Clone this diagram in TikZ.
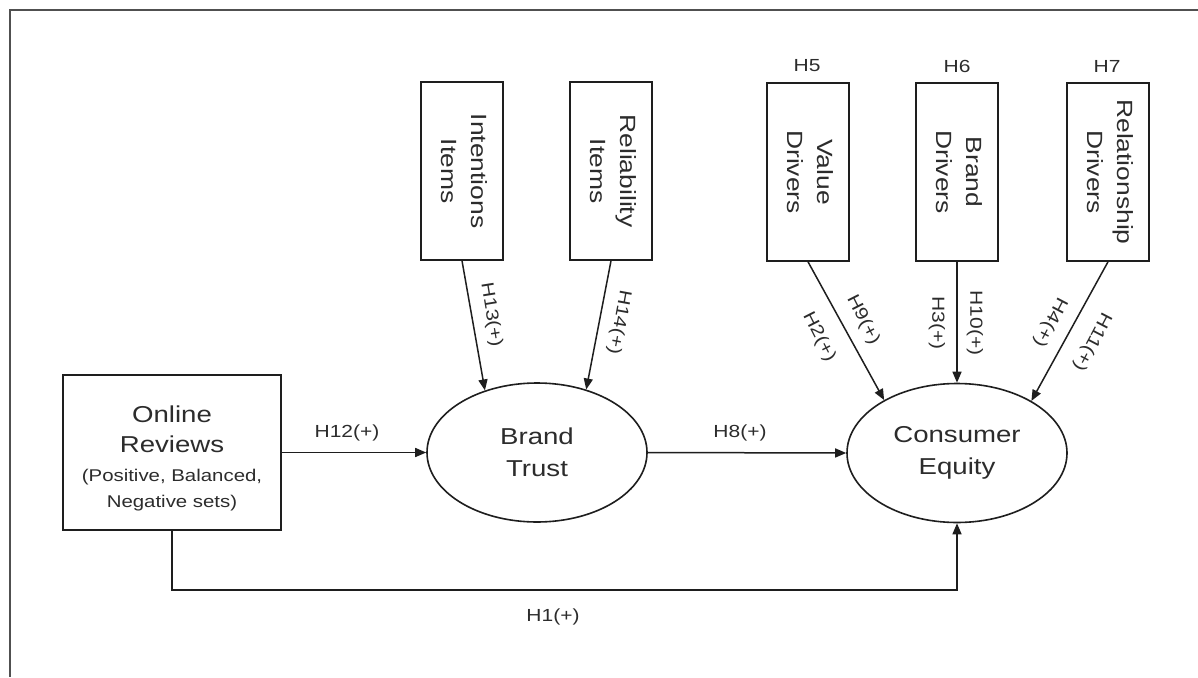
\documentclass[tikz,border=0pt]{standalone}
\usepackage{fontspec}
\setmainfont[FakeStretch=1.2]{Liberation Sans}
\usepackage{graphicx}
\usetikzlibrary{shapes.geometric,arrows.meta}
\definecolor{ink}{HTML}{1e1e1e}
\definecolor{txt}{HTML}{2c2c2c}
\definecolor{framec}{HTML}{505050}
\newcommand{\smalltxt}{\fontsize{17}{25}\selectfont}
\begin{document}
\begin{tikzpicture}[x=1pt,y=-1pt,
  box/.style={draw=ink, line width=1.6pt, fill=white, inner sep=0pt, text=txt},
  hbox/.style={box, minimum width=218pt, minimum height=155pt, align=center, font=\fontsize{23}{32}\selectfont},
  vbox/.style={box, minimum width=82pt, minimum height=178pt, font=\fontsize{22}{30}\selectfont},
  ell/.style={ellipse, draw=ink, line width=1.6pt, fill=white, inner sep=0pt, minimum width=220pt, minimum height=139pt, align=center, text=txt, font=\fontsize{23}{32}\selectfont},
  conn/.style={draw=ink, line width=1.5pt, -{Triangle[length=11pt,width=9pt]}},
  lab/.style={text=txt, inner sep=0pt, font=\fontsize{17.5}{20}\selectfont}]
\useasboundingbox (0,0) rectangle (1198,677);
\fill[white] (0,0) rectangle (1198,677);
\draw[framec, line width=1.6pt] (1198,10) -- (10,10) -- (10,677);

% main nodes
\node[hbox] (rev) at (172,452.5) {\rule{0pt}{28pt}Online\\[-2pt]Reviews\\[-3pt]\smalltxt (Positive, Balanced,\\[-6pt]\smalltxt Negative sets)};
\node[ell] (bt) at (537,452.5) {Brand\\Trust};
\node[ell] (ce) at (957,453) {Consumer\\Equity};

% vertical boxes
\node[vbox] (int) at (462,171) {\rotatebox{-90}{\begin{tabular}{@{}c@{}}Intentions\\Items\end{tabular}}};
\node[vbox] (rel) at (611,171) {\rotatebox{-90}{\begin{tabular}{@{}c@{}}Reliability\\Items\end{tabular}}};
\node[vbox] (val) at (808,172) {\rotatebox{-90}{\begin{tabular}{@{}c@{}}Value\\Drivers\end{tabular}}};
\node[vbox] (brd) at (957,172) {\rotatebox{-90}{\begin{tabular}{@{}c@{}}Brand\\Drivers\end{tabular}}};
\node[vbox] (rsh) at (1108,172) {\rotatebox{-90}{\begin{tabular}{@{}c@{}}Relationship\\Drivers\end{tabular}}};

% top labels
\node[lab] (h5) at (807,66) {H5};
\node[lab] (h6) at (957,66) {H6};
\node[lab] (h7) at (1107,66) {H7};

% connectors
\draw[conn] (rev.east) -- (bt.west);
\draw[conn] (bt.east) -- (ce.west);
\coordinate (h1c) at (957,590);
\draw[conn] (rev.south) |- (h1c) -- (ce.south);
\draw[conn] (int.south) -- (bt.130);
\draw[conn] (rel.south) -- (bt.52);
\draw[conn] (val.south) -- (ce.144);
\draw[conn] (brd.south) -- (ce.north);
\draw[conn] (rsh.south) -- (ce.35.5);

% connector labels
\node[lab] (l12) at (347,433) {H12(+)};
\node[lab] (l8) at (740,433) {H8(+)};
\node[lab] (l1) at (553,617) {H1(+)};
\node[lab, rotate=-80.8] (l13) at (491,315) {H13(+)};
\node[lab, rotate=-100.5] (l14) at (619,322) {H14(+)};
\node[lab, rotate=-63.1] (l9) at (863,320) {H9(+)};
\node[lab, rotate=-63.1] (l2) at (819,337) {H2(+)};
\node[lab, rotate=-90] (l3) at (937,323) {H3(+)};
\node[lab, rotate=-90] (l10) at (975,323) {H10(+)};
\node[lab, rotate=-117.6] (l4) at (1050,322) {H4(+)};
\node[lab, rotate=-117.6] (l11) at (1092,342) {H11(+)};
\end{tikzpicture}
\end{document}
